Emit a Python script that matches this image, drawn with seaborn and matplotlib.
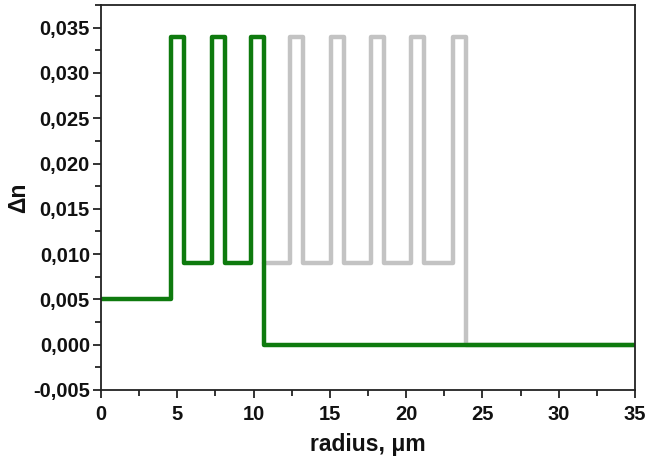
import matplotlib
matplotlib.use("Agg")
import matplotlib.pyplot as plt
import seaborn as sns
import pandas as pd
from matplotlib.ticker import MultipleLocator, FuncFormatter

# Green profile (fabricated fiber), breakpoints of the step profile
green_r = [0, 4.6, 4.6, 5.45, 5.45, 7.25, 7.25, 8.1, 8.1, 9.85, 9.85, 10.7, 10.7, 35]
green_dn = [0.005, 0.005, 0.034, 0.034, 0.009, 0.009, 0.034, 0.034, 0.009, 0.009, 0.034, 0.034, 0.0, 0.0]

# Grey profile (continuation of rings)
grey_r = [10.7, 12.42, 12.42, 13.27, 13.27, 15.05, 15.05, 15.9, 15.9, 17.72, 17.72,
          18.57, 18.57, 20.35, 20.35, 21.2, 21.2, 23.05, 23.05, 23.9, 23.9, 35]
grey_dn = [0.009, 0.009, 0.034, 0.034, 0.009, 0.009, 0.034, 0.034, 0.009, 0.009, 0.034,
           0.034, 0.009, 0.009, 0.034, 0.034, 0.009, 0.009, 0.034, 0.034, 0.0, 0.0]

sns.set_style("ticks")
plt.rcParams['font.family'] = ['Liberation Sans', 'DejaVu Sans']
plt.rcParams['font.weight'] = 'bold'

fig = plt.figure(figsize=(6.48, 4.62), dpi=100)
ax = fig.add_axes([101 / 648, 72 / 462, 534 / 648, 385 / 462])

df_grey = pd.DataFrame({"r": grey_r, "dn": grey_dn})
df_green = pd.DataFrame({"r": green_r, "dn": green_dn})
sns.lineplot(data=df_grey, x="r", y="dn", sort=False, estimator=None,
             color="#c3c3c3", linewidth=3.2, ax=ax)
sns.lineplot(data=df_green, x="r", y="dn", sort=False, estimator=None,
             color="#0e7a0e", linewidth=3.2, ax=ax)

ax.set_xlim(0, 35)
ax.set_ylim(-0.005, 0.0375)
ax.xaxis.set_major_locator(MultipleLocator(5))
ax.xaxis.set_minor_locator(MultipleLocator(2.5))
ax.yaxis.set_major_locator(MultipleLocator(0.005))
ax.yaxis.set_minor_locator(MultipleLocator(0.0025))
ax.yaxis.set_major_formatter(FuncFormatter(lambda v, p: f"{v:.3f}".replace(".", ",").replace("-0,000", "0,000")))
ax.xaxis.set_major_formatter(FuncFormatter(lambda v, p: f"{v:g}"))

ax.tick_params(axis="both", which="major", direction="out", length=6, width=1.2,
               labelsize=14.5, color="#111111", labelcolor="#111111")
ax.tick_params(axis="x", which="major", pad=5)
ax.tick_params(axis="y", which="major", pad=2)
ax.tick_params(axis="both", which="minor", direction="out", length=4, width=1.2, color="#111111")
for lbl in ax.get_xticklabels() + ax.get_yticklabels():
    lbl.set_fontweight("bold")

for s in ax.spines.values():
    s.set_visible(True)
    s.set_linewidth(1.3)
    s.set_color("#222222")

ax.set_xlabel("radius, μm", fontsize=16.5, fontweight="bold", labelpad=6, color="#111111")
ax.set_ylabel("Δn", fontsize=16.5, fontweight="bold", labelpad=2, color="#111111")

fig.savefig("out.png", dpi=100)
